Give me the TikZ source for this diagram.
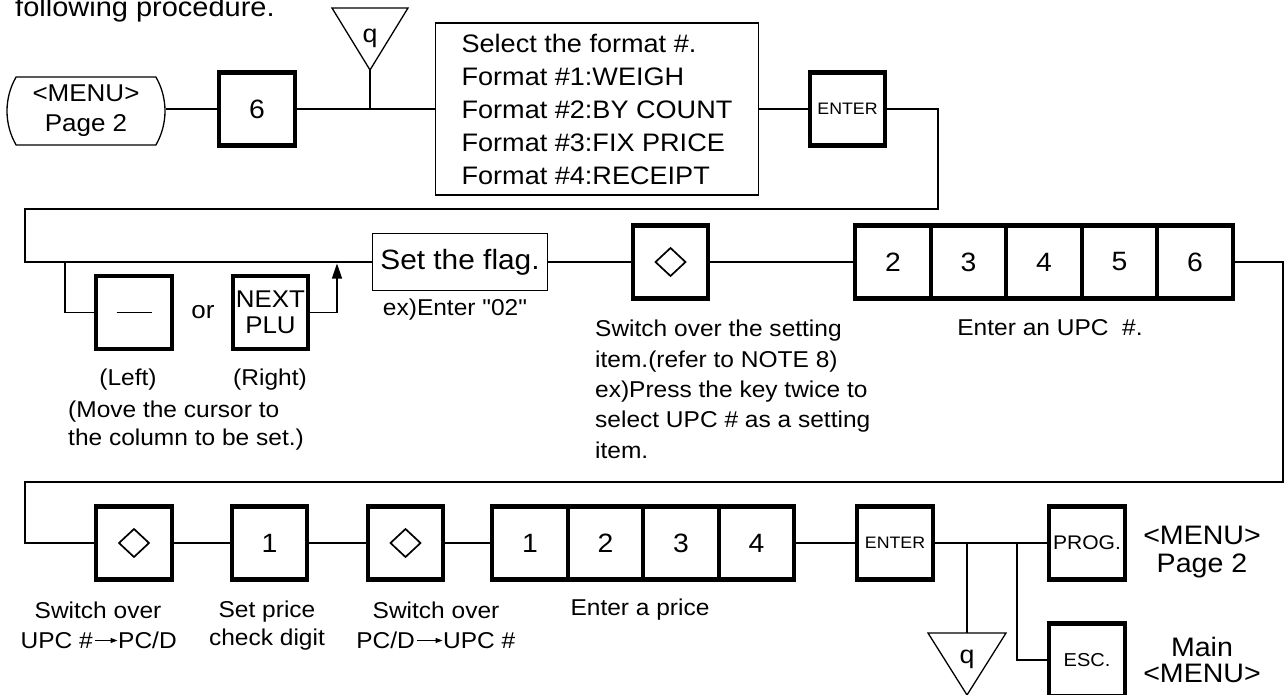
\documentclass[tikz,border=0pt]{standalone}
\usepackage{fontspec}
\setmainfont[FakeStretch=1.07,Ligatures=TeXOff]{Liberation Sans}
\usetikzlibrary{arrows.meta,shapes.misc}
\begin{document}
\begin{tikzpicture}[x=1pt,y=-1pt,
  ln/.style={line width=1.3pt},
  key/.style={draw, line width=4.3pt, minimum width=75.5pt, minimum height=73pt, inner sep=0pt, font=\fontsize{26.5}{30}\selectfont},
  thinbox/.style={draw, line width=1.3pt, inner sep=0pt},
  lbl/.style={font=\fontsize{22.9}{30}\selectfont, inner sep=0pt, anchor=base},
  big/.style={inner sep=0pt, anchor=base, align=center},
  qtxt/.style={font=\fontsize{25}{30}\selectfont, anchor=base, inner sep=0pt},
  diasym/.style={line width=1.7pt},
  smallarr/.style={line width=1.1pt, -{Triangle[length=7pt,width=5pt]}}]
\useasboundingbox (0,0) rectangle (1287,695);
\node[anchor=base west, inner sep=0pt, font=\fontsize{27.1}{33}\selectfont] (intro) at (15,17) {following procedure.};
% row 1
\node[draw, line width=1.3pt, rounded rectangle, rounded rectangle arc length=60, minimum width=158pt, minimum height=68pt, inner sep=0pt, align=center, font=\fontsize{24.3}{30}\selectfont] (menu) at (86,111) {<MENU>\\Page 2};
\node[key] (k6) at (257,109) {6};
\node[thinbox, minimum width=323pt, minimum height=172pt, align=left, font=\fontsize{25.3}{33}\selectfont] (fmt) at (597,109) {Select the format \#.\\Format \#1:WEIGH\\Format \#2:BY COUNT\\Format \#3:FIX PRICE\\Format \#4:RECEIPT};
\node[key, font=\fontsize{16.6}{20}\selectfont] (ent1) at (847.5,109) {ENTER};
\draw[ln] (332,8) -- (408,8) -- (370,70) -- cycle;
\coordinate (t1) at (370,70);
\node[qtxt] (q1) at (370,43) {q};
\draw[ln] (menu.east |- k6) -- (k6);
\draw[ln] (k6) -- (fmt);
\draw[ln] (fmt) -- (ent1);
\draw[ln] (t1) -- (t1 |- k6);
% row 2
\node[thinbox, minimum width=175pt, minimum height=57pt, font=\fontsize{27.9}{33}\selectfont] (flag) at (460,262) {Set the flag.};
\coordinate (c1) at (938,109);
\coordinate (c2) at (938,209);
\coordinate (c3) at (25,209);
\coordinate (c4) at (25,262);
\draw[ln] (ent1) -- (c1) -- (c2) -- (c3) -- (c4) -- (flag);
\node[key] (kl) at (134,312.5) {};
\draw[line width=1.5pt] (kl.center) ++(-17.5,0) -- ++(35,0);
\node[key, align=center, font=\fontsize{24.2}{26}\selectfont] (kn) at (270.5,312.5) {NEXT\\PLU};
\node[lbl, font=\fontsize{24.3}{30}\selectfont] (or) at (203,318) {or};
\coordinate (b1) at (65,262);
\coordinate (b2) at (65,312.5);
\draw[ln] (b1) -- (b2) -- (kl);
\coordinate (a1) at (337,312.5);
\coordinate (a2) at (337,263.5);
\draw[ln] (kn) -- (a1);
\draw[ln, -{Triangle[length=15pt,width=10pt]}] (a1) -- (a2);
\node[lbl] (lt) at (128,385) {(Left)};
\node[lbl] (rt) at (270,385) {(Right)};
\node[lbl, anchor=base west, align=left, font=\fontsize{22.9}{28}\selectfont] (mv) at (68,445) {(Move the cursor to\\the column to be set.)};
\node[lbl] (exe) at (455,315) {ex)Enter "02"};
\node[key] (dia1) at (670.5,262) {};
\node[lbl, anchor=base west, align=left, font=\fontsize{22.9}{30.3}\selectfont] (diat) at (595,458) {Switch over the setting\\item.(refer to NOTE 8)\\ex)Press the key twice to\\select UPC \# as a setting\\item.};
\node[key] (u1) at (892.9,262) {2};
\node[key] (u2) at (968.4,262) {3};
\node[key] (u3) at (1043.9,262) {4};
\node[key] (u4) at (1119.4,262) {5};
\node[key] (u5) at (1194.9,262) {6};
\node[lbl] (upct) at (1050,335) {Enter an UPC\ \ \#.};
\draw[ln] (flag) -- (dia1);
\draw[ln] (dia1) -- (u1);
\coordinate (d1) at (1283,262);
\coordinate (d2) at (1283,482);
\coordinate (d3) at (25,482);
\coordinate (d4) at (25,543);
% row 3
\node[key] (r1) at (134,543) {};
\node[key] (r2) at (269.5,543) {1};
\node[key] (r3) at (405.5,543) {};
\node[key] (p1) at (529.9,543) {1};
\node[key] (p2) at (605.4,543) {2};
\node[key] (p3) at (680.9,543) {3};
\node[key] (p4) at (756.4,543) {4};
\node[key, font=\fontsize{16.6}{20}\selectfont] (ent2) at (895,543) {ENTER};
\node[key, font=\fontsize{19.7}{24}\selectfont] (prog) at (1087,543) {PROG.};
\node[key, font=\fontsize{18.7}{24}\selectfont] (esc) at (1087,660) {ESC.};
\foreach \n in {dia1,r1,r3}
  \draw[diasym] (\n.center) ++(0,-14) -- ++(15,14) -- ++(-15,14) -- ++(-15,-14) -- cycle;
\draw[ln] (u5) -- (d1) -- (d2) -- (d3) -- (d4) -- (r1);
\draw[ln] (r1) -- (r2);
\draw[ln] (r2) -- (r3);
\draw[ln] (r3) -- (p1);
\draw[ln] (p4) -- (ent2);
\draw[ln] (ent2) -- (prog);
\coordinate (e1) at (967,543);
\coordinate (e2) at (967,633);
\coordinate (e3) at (1017,543);
\coordinate (e4) at (1017,660);
\draw[ln] (e1) -- (e2);
\draw[ln] (e3) -- (e4) -- (esc);
\draw[ln] (928,633) -- (1006,633) -- (967,695) -- cycle;
\node[qtxt] (q2) at (967,663) {q};
% labels row 3
\node[lbl] (s1) at (98,618) {Switch over};
\node[lbl, anchor=base east] (s1u) at (93,648) {UPC \#};
\node[lbl, anchor=base west] (s1p) at (118,648) {PC/D};
\draw[smallarr] ([xshift=2pt,yshift=7.5pt]s1u.base east) -- ([xshift=-0.5pt,yshift=7.5pt]s1p.base west);
\node[lbl, align=center, font=\fontsize{22.9}{28}\selectfont] (s2) at (267,645) {Set price\\check digit};
\node[lbl] (s3) at (436,618) {Switch over};
\node[lbl, anchor=base east] (s3p) at (415,648) {PC/D};
\node[lbl, anchor=base west] (s3u) at (443,648) {UPC \#};
\draw[smallarr] ([xshift=2pt,yshift=7.5pt]s3p.base east) -- ([xshift=-0.5pt,yshift=7.5pt]s3u.base west);
\node[lbl] (s4) at (640,615) {Enter a price};
\node[big, font=\fontsize{26.7}{28}\selectfont] (m1) at (1202,572) {<MENU>\\Page 2};
\node[big, font=\fontsize{26.7}{26}\selectfont] (m2) at (1202,682) {Main\\<MENU>};
\end{tikzpicture}
\end{document}
